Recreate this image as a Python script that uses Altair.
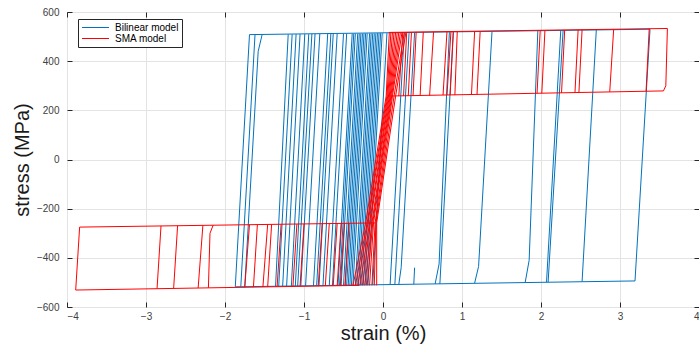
import altair as alt
import pandas as pd

# ---------------- data ----------------
X_TICKS = [-4, -3, -2, -1, 0, 1, 2, 3, 4]
Y_TICKS = [-600, -400, -200, 0, 200, 400, 600]
SERIES = ["Bilinear model", "SMA model"]
COLORS = ["#0072BD", "#FF0000"]

# Bilinear model: yield plateaus (strain %, stress MPa)
BIL_PLATEAUS = [
    [(-1.87, -518), (3.19, -494)],
    [(-1.69, 508), (3.38, 530)],
]
# Bilinear model: elastic branches (bottom -> top), some with a rounded knee
BIL_BRANCHES = [
    [(-1.87, -518), (-1.69, 508)],
    [(-1.80, -517), (-1.62, 508)],
    [(-1.75, -517), (-1.58, 440), (-1.53, 508)],
    [(-1.36, -516), (-1.20, 509)],
    [(-1.32, -516), (-1.15, 509)],
    [(-1.27, -515), (-1.10, 510)],
    [(-1.22, -515), (-1.05, 510)],
    [(-1.16, -515), (-0.99, 510)],
    [(-1.11, -515), (-0.94, 510)],
    [(-1.08, -515), (-0.90, 511)],
    [(-1.04, -514), (-0.86, 511)],
    [(-0.98, -514), (-0.80, 511)],
    [(-0.88, -514), (-0.70, 511)],
    [(-0.84, -514), (-0.66, 511)],
    [(-0.81, -514), (-0.63, 511)],
    [(-0.76, -514), (-0.58, 512)],
    [(-0.68, -513), (-0.50, 512)],
    [(-0.64, -513), (-0.46, 512)],
    [(-0.57, -513), (-0.39, 512)],
    [(-0.55, -513), (-0.37, 512)],
    [(-0.53, -513), (-0.35, 512)],
    [(-0.50, -512), (-0.32, 512)],
    [(-0.48, -512), (-0.30, 512)],
    [(-0.46, -512), (-0.28, 512)],
    [(-0.44, -512), (-0.26, 512)],
    [(-0.42, -512), (-0.24, 513)],
    [(-0.40, -512), (-0.22, 513)],
    [(-0.38, -512), (-0.20, 513)],
    [(-0.35, -511), (-0.17, 513)],
    [(-0.33, -511), (-0.15, 513)],
    [(-0.31, -511), (-0.13, 513)],
    [(-0.29, -511), (-0.11, 513)],
    [(-0.27, -511), (-0.09, 513)],
    [(-0.25, -511), (-0.07, 514)],
    [(-0.23, -511), (-0.05, 514)],
    [(-0.21, -511), (-0.03, 514)],
    [(-0.19, -511), (-0.01, 514)],
    [(-0.13, -510), (0.05, 514)],
    [(0.09, -509), (0.27, 515)],
    [(0.15, -509), (0.33, 515)],
    [(0.20, -508), (0.23, -440), (0.40, 516)],
    [(0.39, -507), (0.40, -440)],
    [(0.66, -506), (0.71, -425), (0.84, 518)],
    [(0.72, -506), (0.89, 518)],
    [(1.16, -503), (1.21, -435), (1.38, 521)],
    [(1.80, -500), (1.85, -410), (1.96, 524)],
    [(2.07, -499), (2.25, 525)],
    [(2.09, -499), (2.28, 525)],
    [(2.52, -497), (2.70, 527)],
    [(3.19, -494), (3.38, 530)],
]

# SMA model: compression box
SMA_COMP_BOX = [
    [(-0.30, -512), (-3.89, -531), (-3.84, -275), (-0.10, -258)],
]
# SMA model: compression-box branches (lower plateau -> upper plateau)
SMA_COMP_BRANCHES = [
    [(-2.86, -525), (-2.81, -270)],
    [(-2.65, -524), (-2.60, -269)],
    [(-2.34, -523), (-2.28, -268)],
    [(-2.21, -522), (-2.19, -300), (-2.15, -267)],
    [(-1.75, -520), (-1.69, -265)],
    [(-1.64, -519), (-1.59, -265)],
    [(-1.52, -518), (-1.46, -264)],
    [(-1.46, -518), (-1.41, -264)],
    [(-1.34, -517), (-1.29, -264)],
    [(-1.14, -516), (-1.09, -263)],
    [(-1.05, -516), (-1.00, -262)],
    [(-0.82, -515), (-0.77, -261)],
    [(-0.73, -514), (-0.68, -261)],
    [(-0.63, -514), (-0.58, -260)],
    [(-0.58, -514), (-0.53, -260)],
    [(-0.54, -513), (-0.49, -260)],
    [(-0.48, -513), (-0.43, -260)],
]
# SMA model: dense central branches (lower compression plateau -> upper tension plateau)
SMA_CENTRAL = [
    [(-0.38, -513), (-0.22, -258), (0.04, 258), (0.08, 517)],
    [(-0.35, -513), (-0.20, -258), (0.05, 258), (0.10, 517)],
    [(-0.32, -513), (-0.19, -258), (0.06, 258), (0.12, 517)],
    [(-0.29, -512), (-0.17, -258), (0.07, 258), (0.14, 517)],
    [(-0.26, -512), (-0.16, -258), (0.08, 258), (0.16, 517)],
    [(-0.23, -512), (-0.14, -258), (0.09, 258), (0.18, 517)],
    [(-0.20, -512), (-0.13, -258), (0.10, 258), (0.20, 517)],
    [(-0.17, -512), (-0.12, -258), (0.11, 258), (0.22, 517)],
    [(-0.14, -512), (-0.10, -258), (0.12, 258), (0.24, 517)],
    [(-0.11, -512), (-0.09, -258), (0.14, 258), (0.27, 518)],
    [(-0.08, -512), (-0.08, -258), (0.16, 258), (0.29, 518)],
]
# SMA model: tension box
SMA_TENS_BOX = [
    [(0.06, 258), (3.55, 279), (3.58, 300), (3.60, 533), (0.08, 517)],
]
# SMA model: tension-box branches (lower plateau -> upper plateau)
SMA_TENS_BRANCHES = [
    [(0.20, 258), (0.25, 518)],
    [(0.26, 258), (0.30, 518)],
    [(0.32, 259), (0.36, 518)],
    [(0.38, 259), (0.42, 519)],
    [(0.47, 260), (0.51, 519)],
    [(0.59, 260), (0.64, 520)],
    [(0.76, 262), (0.81, 520)],
    [(0.81, 262), (0.86, 521)],
    [(0.85, 262), (0.89, 521)],
    [(0.91, 262), (0.94, 521)],
    [(1.12, 264), (1.16, 522)],
    [(1.19, 264), (1.23, 522)],
    [(1.95, 269), (1.99, 526)],
    [(2.01, 269), (2.05, 526)],
    [(2.26, 271), (2.30, 527)],
    [(2.43, 272), (2.47, 528)],
    [(2.48, 272), (2.52, 528)],
    [(2.87, 275), (2.92, 530)],
    [(3.33, 278), (3.37, 532)],
]

# ---------------- build table ----------------
rows = []
def add(model, groups, prefix):
    for i, line in enumerate(groups):
        for j, (sx, sy) in enumerate(line):
            rows.append({"model": model, "line": f"{prefix}{i}", "order": j,
                         "strain": sx, "stress": sy})

add(SERIES[0], BIL_PLATEAUS, "bp")
add(SERIES[0], BIL_BRANCHES, "bb")
add(SERIES[1], SMA_COMP_BOX, "scb")
add(SERIES[1], SMA_COMP_BRANCHES, "scr")
add(SERIES[1], SMA_CENTRAL, "sc")
add(SERIES[1], SMA_TENS_BOX, "stb")
add(SERIES[1], SMA_TENS_BRANCHES, "str")
df = pd.DataFrame(rows)

FONT = "Liberation Sans"
color = alt.Color("model:N",
                  scale=alt.Scale(domain=SERIES, range=COLORS),
                  legend=alt.Legend(title=None, orient="none", legendX=11, legendY=7,
                                    direction="vertical",
                                    symbolType="M-2.7,0H2.7", symbolSize=100,
                                    symbolStrokeWidth=1, symbolOffset=9,
                                    labelFontSize=10, labelFont=FONT, labelColor="#000000",
                                    fillColor="white", strokeColor="#262626",
                                    padding=3, rowPadding=0, labelOffset=14))

x_main = alt.X("strain:Q", scale=alt.Scale(domain=[-4, 4], nice=False),
               axis=alt.Axis(values=X_TICKS, title="strain (%)", grid=True,
                             domain=False, offset=-5, tickSize=5, labelPadding=4,
                             titleFontSize=20, titleFont=FONT, titleFontWeight="normal",
                             titleColor="#1a1a1a", titlePadding=2,
                             labelFontSize=10, labelFont=FONT, labelColor="#404040",
                             tickColor="#262626", gridColor="#e3e3e3"))
y_main = alt.Y("stress:Q", scale=alt.Scale(domain=[-600, 600], nice=False),
               axis=alt.Axis(values=Y_TICKS, title="stress (MPa)", grid=True,
                             domain=False, offset=-5, tickSize=5, labelPadding=8,
                             titleFontSize=20, titleFont=FONT, titleFontWeight="normal",
                             titleColor="#1a1a1a", titlePadding=4,
                             labelFontSize=10, labelFont=FONT, labelColor="#404040",
                             tickColor="#262626", gridColor="#e3e3e3"))
x_top = alt.X("strain:Q", scale=alt.Scale(domain=[-4, 4], nice=False),
              axis=alt.Axis(values=X_TICKS, orient="top", title=None, labels=False,
                            grid=False, domain=False, offset=-5, tickSize=5,
                            tickColor="#262626"))
y_right = alt.Y("stress:Q", scale=alt.Scale(domain=[-600, 600], nice=False),
                axis=alt.Axis(values=Y_TICKS, orient="right", title=None, labels=False,
                              grid=False, domain=False, offset=-5, tickSize=5,
                              tickColor="#262626"))

blue = alt.Chart(df).transform_filter(alt.datum.model == SERIES[0]).mark_line(
    strokeWidth=1, clip=True).encode(
    x=x_main, y=y_main, color=color, detail="line:N", order="order:Q")
red = alt.Chart(df).transform_filter(alt.datum.model == SERIES[1]).mark_line(
    strokeWidth=1, clip=True).encode(
    x=x_top, y=y_right, color=color, detail="line:N", order="order:Q")

chart = alt.layer(blue, red).resolve_axis(x="independent", y="independent").properties(
    width=632, height=295,
    autosize=alt.AutoSizeParams(type="none"),
    padding={"left": 67, "top": 12, "right": 0, "bottom": 40},
    background="white",
).configure_view(stroke="#262626", strokeWidth=1)

chart.save("out.html", embed_options={"renderer": "svg", "actions": False})
